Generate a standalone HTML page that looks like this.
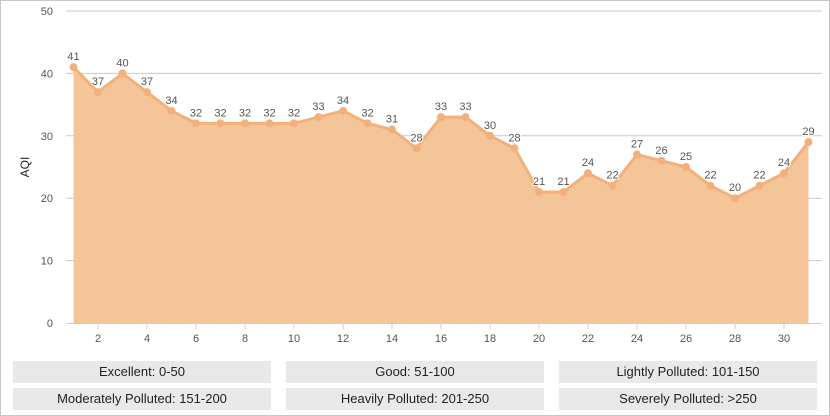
<!DOCTYPE html>
<html><head><meta charset="utf-8"><style>
body{margin:0;width:830px;height:416px;overflow:hidden;background:#fff;font-family:"Liberation Sans",sans-serif}
#frame{position:absolute;left:0;top:0;width:828px;height:414px;border:1px solid #c8c8c8}
.lg{position:absolute;width:258px;height:22px;background:#e9e9e9;font-size:13px;line-height:22px;text-align:center;color:#222}
</style></head><body>
<div id="frame"></div>
<svg id="chart" width="830" height="360" style="position:absolute;left:0;top:0"></svg>
<div class="lg" style="left:13px;top:361px">Excellent: 0-50</div>
<div class="lg" style="left:286px;top:361px">Good: 51-100</div>
<div class="lg" style="left:559px;top:361px">Lightly Polluted: 101-150</div>
<div class="lg" style="left:13px;top:388px">Moderately Polluted: 151-200</div>
<div class="lg" style="left:286px;top:388px">Heavily Polluted: 201-250</div>
<div class="lg" style="left:559px;top:388px">Severely Polluted: &gt;250</div>
<script>
const days=[1,2,3,4,5,6,7,8,9,10,11,12,13,14,15,16,17,18,19,20,21,22,23,24,25,26,27,28,29,30,31];
const aqi=[41,37,40,37,34,32,32,32,32,32,33,34,32,31,28,33,33,30,28,21,21,24,22,27,26,25,22,20,22,24,29];
const yTicks=[0,10,20,30,40,50];
const xTicks=[2,4,6,8,10,12,14,16,18,20,22,24,26,28,30];
const NS="http://www.w3.org/2000/svg";
const svg=document.getElementById('chart');
const x=d=>73.5+(d-1)*24.5;
const y=v=>323-v*6.24;
function mk(t,a){const e=document.createElementNS(NS,t);for(const k in a)e.setAttribute(k,a[k]);svg.appendChild(e);return e;}
yTicks.forEach(v=>{
  if(v>0){const g=mk('line',{x1:66,x2:822,y1:y(v),y2:y(v),stroke:'#c8c8c8','stroke-width':1});
  
  }
  const t=mk('text',{x:53,y:y(v)+4,'text-anchor':'end','font-size':11,fill:'#555'});t.textContent=v;
  
  
});
const yt=mk('text',{x:0,y:0,'font-size':12,fill:'#222',transform:'translate(29,167) rotate(-90)','text-anchor':'middle'});yt.textContent='AQI';


let pts=days.map((d,i)=>x(d)+','+y(aqi[i])).join(' ');
const area=mk('polygon',{points:x(days[0])+','+y(0)+' '+pts+' '+x(days[days.length-1])+','+y(0),fill:'#f5c59a'});


const ax=mk('line',{x1:66,x2:822,y1:323.5,y2:323.5,stroke:'#c0d0e0','stroke-width':1});


xTicks.forEach(d=>{
  const l=mk('line',{x1:x(d),x2:x(d),y1:323,y2:329,stroke:'#c0d0e0'});
  
  
  const t=mk('text',{x:x(d),y:342,'text-anchor':'middle','font-size':11,fill:'#555'});t.textContent=d;
  
  
});
const line=mk('polyline',{points:pts,fill:'none',stroke:'#f4b07a','stroke-width':3,'stroke-linejoin':'round'});


days.forEach((d,i)=>{
  const c=mk('circle',{cx:x(d),cy:y(aqi[i]),r:4,fill:'#f4b07a'});
  
  
  const t=mk('text',{x:x(d),y:y(aqi[i])-7,'text-anchor':'middle','font-size':11,fill:'#555',stroke:'#fff','stroke-width':2,'paint-order':'stroke'});t.textContent=aqi[i];
  
  
});
</script>
</body></html>
